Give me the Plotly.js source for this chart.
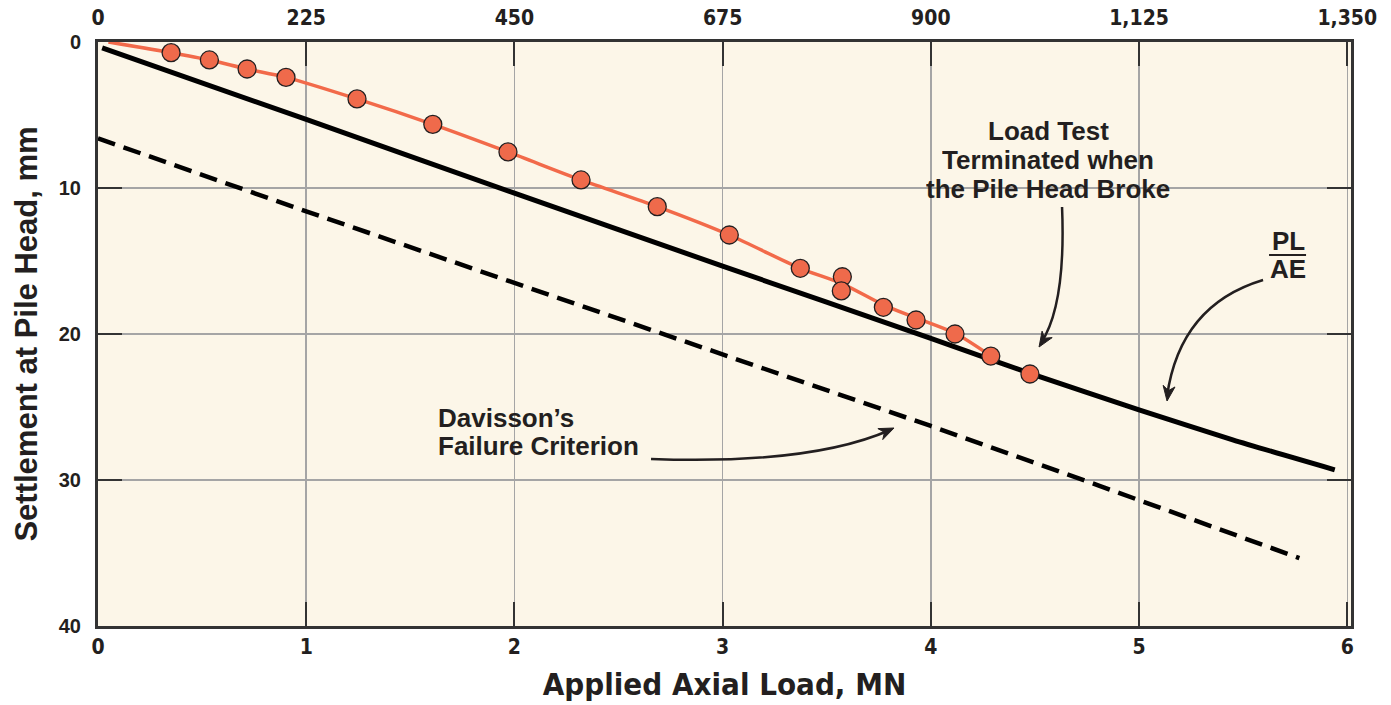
<!DOCTYPE html>
<html><head><meta charset="utf-8">
<script src="https://cdn.plot.ly/plotly-3.0.1.min.js"></script>
<style>html,body{margin:0;padding:0;background:#fff}#plot{width:1391px;height:705px}</style>
</head><body><div id="plot"></div>
<script>
// Measured load test points
const loadMN = [0.351,0.535,0.716,0.903,1.244,1.608,1.969,2.320,2.686,3.032,3.373,3.575,3.570,3.772,3.929,4.116,4.288,4.476];
const settleMM = [0.73,1.23,1.85,2.42,3.90,5.64,7.53,9.45,11.28,13.22,15.50,16.08,17.05,18.17,19.04,20.00,21.51,22.74];
// Smooth curve drawn through the test data
const curveMN = [0.05,0.351,0.535,0.716,0.903,1.244,1.608,1.969,2.320,2.686,3.032,3.373,3.573,3.772,3.929,4.116,4.288];
const curveMM = [0.00,0.73,1.23,1.85,2.42,3.90,5.64,7.53,9.45,11.28,13.22,15.50,16.55,18.00,18.90,19.95,21.50];
// Elastic compression line PL/AE
const elasticMN = [0.02,1,2,3,4,4.476,5,5.45,5.94];
const elasticMM = [0.4,5.3,10.35,15.35,20.3,22.69,25.2,27.25,29.3];
// Davisson's failure criterion
const davMN = [0,1,2,3,4,4.81,5.77];
const davMM = [6.6,11.6,16.5,21.4,26.3,30.4,35.35];
// Axis ticks
const bottomTicks = [0,1,2,3,4,5,6];
const topTicks = [0,225,450,675,900,1125,1350];
const yTicks = [0,10,20,30,40];

// pixel helpers for annotation placement (plot area 98..1351 x, 42..626 y)
const X0=98, XPX=208.2, Y0=42, YPX=14.6;
const px2x = p => (p-X0)/XPX;
const py2y = p => (p-Y0)/YPX;
const P = (a) => px2x(a[0]).toFixed(4)+','+py2y(a[1]).toFixed(4);

function arrowHead(tip, from, len, half){
  const dx=tip[0]-from[0], dy=tip[1]-from[1];
  const n=Math.hypot(dx,dy), ux=dx/n, uy=dy/n;
  const bx=tip[0]-ux*len, by=tip[1]-uy*len;
  const nx=tip[0]-ux*len*0.7, ny=tip[1]-uy*len*0.7;
  const p1=[bx-uy*half, by+ux*half], p2=[bx+uy*half, by-ux*half];
  return {type:'path', xref:'x', yref:'y', path:'M'+P(tip)+' L'+P(p1)+' L'+P([nx,ny])+' L'+P(p2)+' Z',
          fillcolor:'#231f20', line:{color:'#231f20', width:1}};
}
function curve(d){ return {type:'path', xref:'x', yref:'y', path:d, line:{color:'#231f20', width:2.5}}; }

const ink = '#231f20';
const annFont = {family:'"Liberation Sans", Arial, sans-serif', size:26, color:ink, weight:'bold'};
function label(text, px, py, anchor, h){
  return {x:px2x(px), y:py2y(py), xref:'x', yref:'y', text:text, showarrow:false, font:annFont,
          xanchor:anchor||'center', yanchor:'middle', height:h||26, borderpad:0};
}

const traces = [
  {x:davMN, y:davMM, mode:'lines', line:{color:'#000', width:4.5, dash:'18px,9px'}, hoverinfo:'skip', xaxis:'x', yaxis:'y'},
  {x:elasticMN, y:elasticMM, mode:'lines', line:{color:'#000', width:5, shape:'spline', smoothing:0.6}, hoverinfo:'skip'},
  {x:curveMN, y:curveMM, mode:'lines', line:{color:'#f26a4a', width:3.5, shape:'spline', smoothing:0.8}, hoverinfo:'skip'},
  {x:loadMN, y:settleMM, mode:'markers', marker:{size:18, color:'#ef6a4b', line:{color:'#231f20', width:1.3}}, hoverinfo:'skip'},
  {x:topTicks, y:topTicks.map(()=>0), mode:'markers', marker:{opacity:0}, xaxis:'x2', yaxis:'y', hoverinfo:'skip', showlegend:false}
];

const tickFontNarrow = {family:'"Liberation Sans Narrow", "DejaVu Sans Condensed", Arial, sans-serif', size:21, color:ink, weight:'bold'};
const xr = 6.018;
const layout = {
  width:1391, height:705,
  margin:{l:98, r:40, t:42, b:79},
  paper_bgcolor:'#ffffff', plot_bgcolor:'#fcf6e8',
  showlegend:false,
  xaxis:{range:[0,xr], tickvals:bottomTicks, ticks:'inside', ticklen:24, tickwidth:2, tickcolor:'#333',
         showgrid:true, gridcolor:'#a5a5a5', gridwidth:1.5, zeroline:false,
         showline:true, linecolor:'#333', linewidth:3, mirror:false,
         tickfont:tickFontNarrow, ticklabelstandoff:0,
         title:{text:'Applied Axial Load, MN', standoff:16, font:{family:'"Liberation Sans Narrow", "DejaVu Sans Condensed", Arial, sans-serif', size:31, color:ink, weight:'bold'}}},
  xaxis2:{range:[0,1350*xr/6], tickvals:topTicks, tickformat:',', overlaying:'x', side:'top', ticks:'inside', ticklen:24, tickwidth:2, tickcolor:'#333',
          showgrid:false, zeroline:false, showline:true, linecolor:'#333', linewidth:3,
          tickfont:tickFontNarrow, ticklabelstandoff:6},
  yaxis:{range:[40,0], tickvals:yTicks, ticks:'inside', ticklen:24, tickwidth:2, tickcolor:'#333',
         showgrid:true, gridcolor:'#a5a5a5', gridwidth:1.5, zeroline:false,
         showline:true, linecolor:'#333', linewidth:3, mirror:'ticks',
         tickfont:{family:'"Liberation Sans", Arial, sans-serif', size:20, color:ink, weight:'bold'}, ticklabelstandoff:10,
         title:{text:'Settlement at Pile Head, mm', standoff:12, font:{family:'"Liberation Sans", Arial, sans-serif', size:31, color:ink, weight:'bold'}}},
  annotations:[
    label('Load Test', 1048, 131, 'center', 28),
    label('Terminated when', 1048, 160, 'center', 28),
    label('the Pile Head Broke', 1048, 189, 'center', 28),
    label('Davisson’s', 437, 418, 'left', 24),
    label('Failure Criterion', 437, 446, 'left', 24),
    label('PL', 1288, 241, 'center', 24),
    label('AE', 1288, 269, 'center', 24)
  ],
  shapes:[
    {type:'line', xref:'x', yref:'y', x0:px2x(1269), x1:px2x(1306), y0:py2y(255), y1:py2y(255), line:{color:ink, width:2}},
    curve('M'+P([1062,207])+' Q'+P([1066,305])+' '+P([1041,343])),
    arrowHead([1039,347],[1064,308],15,6),
    curve('M'+P([651,459])+' C'+P([760,463])+' '+P([840,452])+' '+P([890,430])),
    arrowHead([894,428],[840,452],15,6),
    curve('M'+P([1263,280])+' Q'+P([1180,305])+' '+P([1167,396])),
    arrowHead([1167,401],[1180,305],15,6)
  ]
};
Plotly.newPlot('plot', traces, layout, {staticPlot:true, displayModeBar:false});
</script></body></html>
